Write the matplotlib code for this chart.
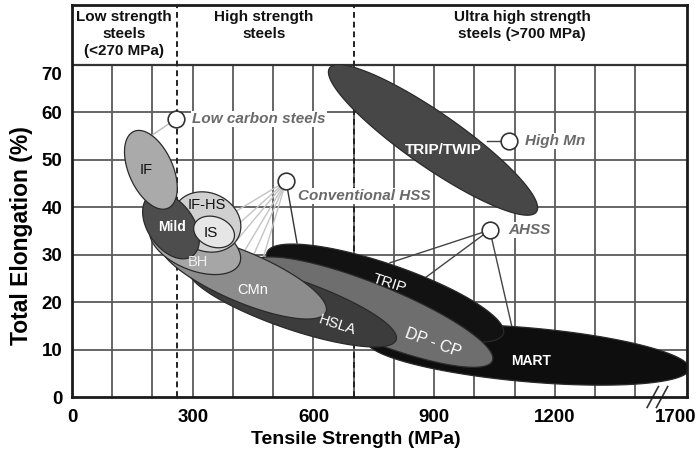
import numpy as np
import matplotlib
matplotlib.use('Agg')
import matplotlib.pyplot as plt
from matplotlib import font_manager

# steel families: ellipse centres (tensile strength MPa, total elongation %)
names = ['MART', 'TRIP', 'DP - CP', 'HSLA', 'CMn', 'BH', 'IF-HS', 'Mild', 'IS', 'IF', 'TRIP/TWIP']
centre_ts = [1133, 778, 745, 547, 425, 306, 335, 246, 353, 196, 897]
centre_el = [8.9, 21.9, 17.9, 19.6, 25.3, 32.0, 36.9, 36.1, 34.8, 47.9, 54.2]
# label positions
label_ts = [1140, 788, 897, 658, 450, 313, 335, 248, 345, 184, 922]
label_el = [7.6, 24.0, 11.4, 15.2, 22.6, 28.5, 40.5, 35.8, 34.6, 47.9, 52.1]

# callout groups
groups = ['Low carbon steels', 'Conventional HSS', 'High Mn', 'AHSS']
circle_ts = [258, 532, 1086, 1038]
circle_el = [58.6, 45.5, 54.0, 35.2]
# leader end points for each group
leader_ts = [[199], [400, 405, 410, 430, 450, 472, 559], [1030], [790, 877, 1093]]
leader_el = [[55.2], [38.8, 35.8, 33.1, 31.0, 29.7, 28.5, 32.5], [54.0], [28.3, 25.1, 14.8]]

x_ticks = [0, 300, 600, 900, 1200, 1500]
x_labels = ['0', '300', '600', '900', '1200', '1700']
y_ticks = [0, 10, 20, 30, 40, 50, 60, 68.3]
y_labels = ['0', '10', '20', '30', '40', '50', '60', '70']
limits = [262, 700]

# ellipse shapes in screen pixels: semi-major, semi-minor, angle
semi_a = [162, 125, 130, 110, 90, 48, 35, 37, 21, 42, 126]
semi_b = [27, 29, 28, 25, 25, 25, 29, 23, 15, 22, 27]
angles = [-5, -19, -22, -19, -23, -22, -25, -55, -20, -66, -34.8]
fills = ['#0e0e0e', '#121212', '#6e6e6e', '#3c3c3c', '#8c8c8c', '#a6a6a6',
         '#d0d0d0', '#4d4d4d', '#e6e6e6', '#aaaaaa', '#474747']
txt_col = ['white', 'white', 'white', 'white', 'white', '#f0f0f0',
           '#111', 'white', '#111', '#111', 'white']
txt_w = ['bold', 'normal', 'normal', 'normal', 'normal', 'normal',
         'normal', 'bold', 'normal', 'normal', 'bold']
txt_s = [10, 11, 11.5, 10.5, 10.5, 10.5, 10.5, 10, 11, 10.5, 11]
txt_rot = [0, -18, -20, -18, 0, 0, 0, 0, 0, 0, 0]

avail = {f.name for f in font_manager.fontManager.ttflist}
base = 'Liberation Sans' if 'Liberation Sans' in avail else 'DejaVu Sans'
plt.rcParams['font.family'] = base

fig = plt.figure(figsize=(6.99, 4.63), dpi=100)
ax = fig.add_axes([72 / 699, 66 / 463, 615 / 699, 392 / 463])
ax.set_xlim(0, 1528)
ax.set_ylim(0, 82.65)

# grid only inside the data part
ax.vlines(np.arange(100, 1500, 100), 0, 70, colors='#5a5a5a', lw=1.3, zorder=1)
ax.hlines(np.arange(10, 70, 10), 0, 1528, colors='#5a5a5a', lw=1.3, zorder=1)
ax.axhline(70, color='#333333', lw=1.6, zorder=1)
ax.vlines(limits, 0, 82.65, colors='#222222', linestyles=(0, (3, 2)), lw=1.4, zorder=2)


def draw_ellipse(cx, cy, a, b, ang, color):
    t = np.linspace(0, 2 * np.pi, 240)
    c = ax.transData.transform((cx, cy))
    th = np.deg2rad(ang)
    px = c[0] + a * np.cos(t) * np.cos(th) - b * np.sin(t) * np.sin(th)
    py = c[1] + a * np.cos(t) * np.sin(th) + b * np.sin(t) * np.cos(th)
    d = ax.transData.inverted().transform(np.column_stack([px, py]))
    ax.fill(d[:, 0], d[:, 1], facecolor=color, edgecolor='#2a2a2a', lw=0.9, zorder=4)


# leader lines under the ellipses
lcol = ['#bbbbbb', '#c4c4c4', '#444444', '#444444']
for i in range(len(groups)):
    for j, (lx, ly) in enumerate(zip(leader_ts[i], leader_el[i])):
        c = lcol[i]
        if i == 1 and j == len(leader_ts[i]) - 1:
            c = '#333333'
        ax.plot([circle_ts[i], lx], [circle_el[i], ly], color=c, lw=1.0, zorder=3)

for i in range(len(names)):
    draw_ellipse(centre_ts[i], centre_el[i], semi_a[i], semi_b[i], angles[i], fills[i])
    ax.text(label_ts[i], label_el[i], names[i], color=txt_col[i], fontsize=txt_s[i],
            fontweight=txt_w[i], rotation=txt_rot[i], ha='center', va='center', zorder=6)

ax.plot(circle_ts, circle_el, 'o', ms=12, mfc='white', mec='#333333', mew=1.2, zorder=7)
for i, g in enumerate(groups):
    dx = [40, 29, 39, 45][i]
    dy = [0, -3.1, 0, 0][i]
    ax.text(circle_ts[i] + dx, circle_el[i] + dy, g, fontsize=11, style='italic',
            fontweight='bold', color='#6a6a6a', ha='left', va='center', zorder=5,
            bbox=dict(facecolor='white', edgecolor='none', pad=1.0))

# header
hdr = dict(ha='center', va='center', fontsize=11, fontweight='bold', color='#111',
           linespacing=1.25)
ax.text(129, 76.5, 'Low strength\nsteels\n(<270 MPa)', **hdr)
ax.text(477, 78.4, 'High strength\nsteels', **hdr)
ax.text(1118, 78.4, 'Ultra high strength\nsteels (>700 MPa)', **hdr)

# axis break marks
for bx in [1443, 1466]:
    ax.plot([bx - 14, bx + 14], [-2.2, 2.2], color='#333333', lw=1.2, clip_on=False, zorder=8)

ax.set_xticks(x_ticks)
ax.set_xticklabels(x_labels)
ax.set_yticks(y_ticks)
ax.set_yticklabels(y_labels)
ax.tick_params(length=0, labelsize=13.5, pad=7)
ax.tick_params(axis='x', pad=9)
for lab in ax.get_xticklabels() + ax.get_yticklabels():
    lab.set_fontweight('bold')
for s in ax.spines.values():
    s.set_linewidth(2)
    s.set_color('#1a1a1a')
    s.set_zorder(9)

fig.text(356 / 699, 1 - 440 / 463, 'Tensile Strength (MPa)', ha='center', va='center',
         fontsize=14, fontweight='bold')
fig.text(22 / 699, 1 - 236 / 463, 'Total Elongation (%)', ha='center', va='center',
         fontsize=16.5, fontweight='bold', rotation=90)

fig.savefig('out.png', dpi=100)
